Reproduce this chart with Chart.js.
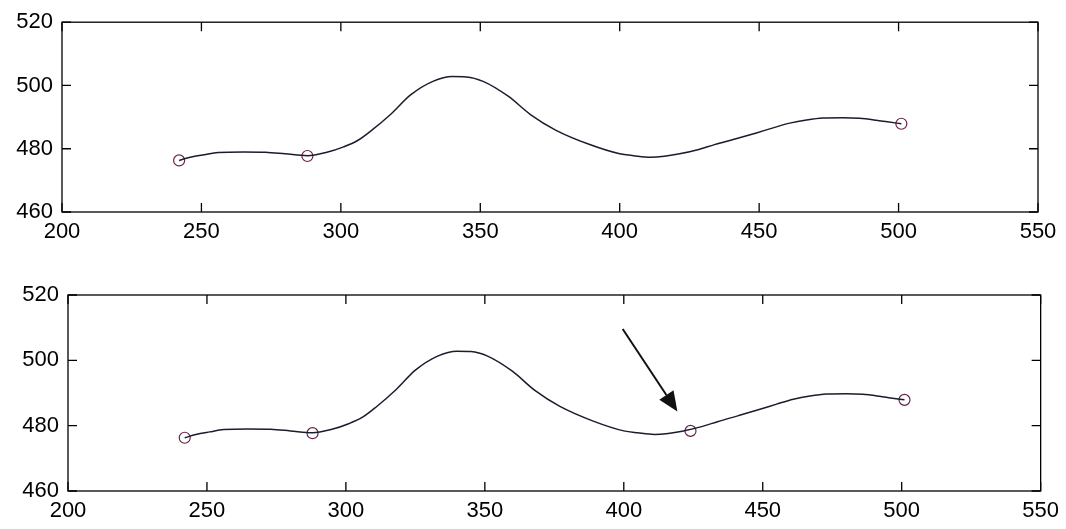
<!DOCTYPE html>
<html lang="en">
<head>
    <meta charset="UTF-8">
    <title>Curve with marked points</title>
    <script src="https://cdn.jsdelivr.net/npm/chart.js"></script>
    <style>
        body { margin: 0; background: #fff; }
        #wrap { position: relative; width: 1066px; height: 529px; }
        canvas { position: absolute; left: 0; }
    </style>
</head>
<body>
    <div id="wrap">
        <canvas id="topChart" width="1066" height="264" style="top:0"></canvas>
        <canvas id="bottomChart" width="1066" height="265" style="top:264px"></canvas>
    </div>
    <script>
        // curve (x, y)
        const curveX = [242, 246, 251, 256, 265, 273, 280, 288, 295, 301, 306, 311, 318, 325, 333, 340, 345, 351, 360, 368,
                        377, 389, 400, 405, 411, 416, 421, 428, 434, 441, 449, 455, 461, 467, 473, 480, 486, 492, 496, 501];
        const curveY = [476.3, 477.3, 478.1, 478.8, 479.0, 478.9, 478.4, 477.8, 478.9, 480.6, 482.6, 485.8, 491.0, 497.0, 501.3, 502.8, 502.7, 501.3, 496.6, 490.8,
                        485.9, 481.4, 478.4, 477.8, 477.3, 477.6, 478.3, 479.7, 481.3, 483.0, 485.0, 486.6, 488.1, 489.1, 489.7, 489.8, 489.6, 489.0, 488.5, 487.9];

        const topPointsX = [242, 288, 501];
        const topPointsY = [476.3, 477.7, 487.9];
        const bottomPointsX = [242, 288, 424, 501];
        const bottomPointsY = [476.3, 477.7, 478.4, 487.9];

        const xTicks = [200, 250, 300, 350, 400, 450, 500, 550];
        const yTicks = [460, 480, 500, 520];

        // arrow in the lower plot, data coords
        const arrowFrom = [399.6, 509.6];
        const arrowTo = [419.3, 484.3];

        const lineColor = '#1c1c2e';
        const markColor = '#6b2347';
        const fontSpec = { family: 'Liberation Sans', size: 22 };

        const toXY = (xs, ys) => xs.map((x, i) => ({ x: x, y: ys[i] }));

        // box with inward ticks on all four sides
        const framePlugin = {
            id: 'frame',
            afterDraw(chart) {
                const { ctx, chartArea: a, scales } = chart;
                ctx.save();
                ctx.strokeStyle = '#000';
                ctx.lineWidth = 1.3;
                ctx.strokeRect(a.left, a.top, a.right - a.left, a.bottom - a.top);
                const len = 9;
                ctx.beginPath();
                xTicks.forEach(v => {
                    const px = scales.x.getPixelForValue(v);
                    ctx.moveTo(px, a.bottom); ctx.lineTo(px, a.bottom - len);
                    ctx.moveTo(px, a.top); ctx.lineTo(px, a.top + len);
                });
                yTicks.forEach(v => {
                    const py = scales.y.getPixelForValue(v);
                    ctx.moveTo(a.left, py); ctx.lineTo(a.left + len, py);
                    ctx.moveTo(a.right, py); ctx.lineTo(a.right - len, py);
                });
                ctx.stroke();
                ctx.restore();
            }
        };

        const arrowPlugin = {
            id: 'arrow',
            afterDatasetsDraw(chart, args, opts) {
                if (!opts.show) return;
                const { ctx, scales } = chart;
                const x1 = scales.x.getPixelForValue(arrowFrom[0]);
                const y1 = scales.y.getPixelForValue(arrowFrom[1]);
                const x2 = scales.x.getPixelForValue(arrowTo[0]);
                const y2 = scales.y.getPixelForValue(arrowTo[1]);
                const ang = Math.atan2(y2 - y1, x2 - x1);
                const headLen = 20, headW = 8.5;
                const bx = x2 - headLen * Math.cos(ang), by = y2 - headLen * Math.sin(ang);
                ctx.save();
                ctx.strokeStyle = '#111';
                ctx.fillStyle = '#111';
                ctx.lineWidth = 2;
                ctx.beginPath();
                ctx.moveTo(x1, y1);
                ctx.lineTo(bx, by);
                ctx.stroke();
                ctx.beginPath();
                ctx.moveTo(x2, y2);
                ctx.lineTo(bx + headW * Math.sin(ang), by - headW * Math.cos(ang));
                ctx.lineTo(bx - headW * Math.sin(ang), by + headW * Math.cos(ang));
                ctx.closePath();
                ctx.fill();
                ctx.restore();
            }
        };

        const makeChart = (id, pointsX, pointsY, box, showArrow) => {
            const ctx = document.getElementById(id).getContext('2d');
            return new Chart(ctx, {
                type: 'line',
                data: {
                    datasets: [{
                        data: toXY(curveX, curveY),
                        borderColor: lineColor,
                        borderWidth: 1.5,
                        pointRadius: 0,
                        cubicInterpolationMode: 'monotone',
                        fill: false
                    }, {
                        data: toXY(pointsX, pointsY),
                        showLine: false,
                        pointRadius: 5.5,
                        pointBorderWidth: 1.2,
                        pointBorderColor: markColor,
                        pointBackgroundColor: 'rgba(0,0,0,0)'
                    }]
                },
                options: {
                    responsive: false,
                    animation: false,
                    layout: { padding: { left: 0, right: box.right, top: box.top, bottom: 0 } },
                    plugins: {
                        legend: { display: false },
                        tooltip: { enabled: false },
                        arrow: { show: showArrow }
                    },
                    scales: {
                        x: {
                            type: 'linear',
                            min: 200, max: 550,
                            afterBuildTicks: s => { s.ticks = xTicks.map(v => ({ value: v })); },
                            afterFit: s => { s.height = box.xHeight; },
                            grid: { display: false, drawTicks: false },
                            border: { display: false },
                            ticks: { color: '#000', font: fontSpec, padding: 7, maxRotation: 0 }
                        },
                        y: {
                            min: 460, max: 520,
                            afterBuildTicks: s => { s.ticks = yTicks.map(v => ({ value: v })); },
                            afterFit: s => { s.width = box.yWidth; },
                            grid: { display: false, drawTicks: false },
                            border: { display: false },
                            ticks: { color: '#000', font: fontSpec, padding: 9 }
                        }
                    }
                },
                plugins: [framePlugin, arrowPlugin]
            });
        };

        makeChart('topChart', topPointsX, topPointsY, { right: 28, top: 19, xHeight: 52, yWidth: 62 }, false);
        makeChart('bottomChart', bottomPointsX, bottomPointsY, { right: 25, top: 31, xHeight: 38, yWidth: 68 }, true);
    </script>
</body>
</html>
